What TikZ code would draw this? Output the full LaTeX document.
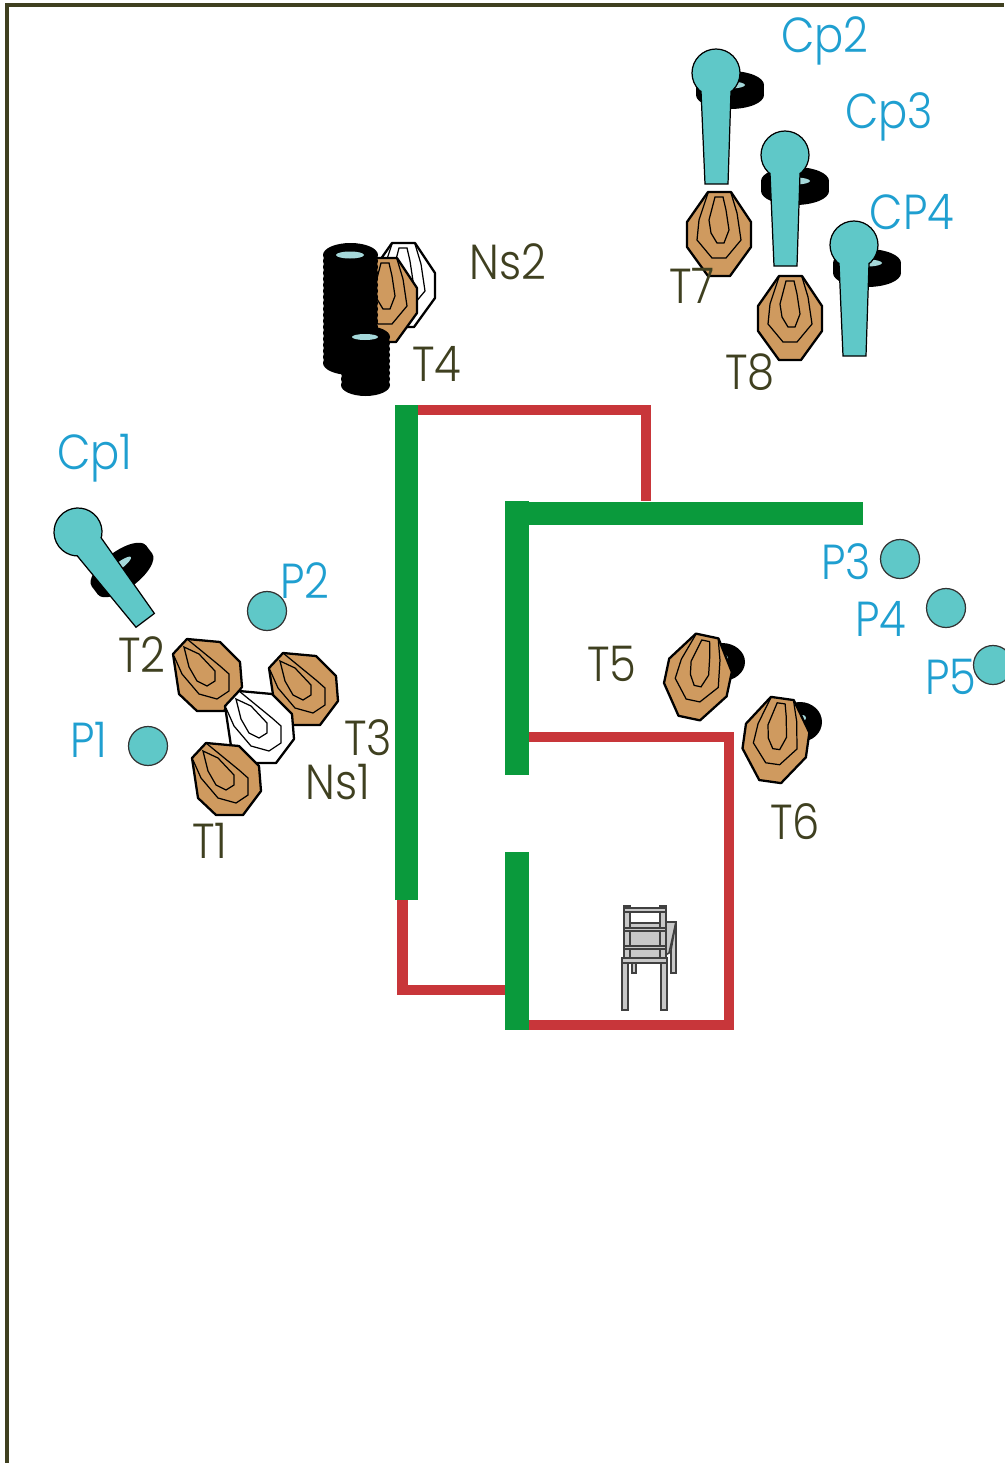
\documentclass[tikz,border=0pt]{standalone}
\usepackage{fontspec}
\setmainfont{Poppins Light}[FakeStretch=.88]
\definecolor{tanfill}{HTML}{CF9A5F}
\definecolor{cyanfill}{HTML}{5FC8C8}
\definecolor{holefill}{HTML}{A5D8DA}
\definecolor{bluetext}{HTML}{1F9FD0}
\definecolor{olivetext}{HTML}{3F4020}
\definecolor{wallred}{HTML}{C8363A}
\definecolor{wallgreen}{HTML}{0A9A3C}
\definecolor{chairgray}{HTML}{C8C8C8}
\tikzset{
    shooter/.style={font=\fontsize{28}{30}\selectfont, text=bluetext, inner sep=0pt},
    prop/.style={font=\fontsize{28}{30}\selectfont, text=olivetext, inner sep=0pt},
    redwall/.style={draw=wallred, line width=5.7pt},
    greenwall/.style={draw=wallgreen, line width=13.3pt},
    chairpart/.style={draw=black!75, fill=chairgray, line width=.9pt},
    pics/target/.style={code={
        \draw[fill=#1, line width=1.3pt, line join=round] (-11,-42) -- (12,-42) -- (32,-12) -- (32,13) -- (11,42) -- (-11,42) -- (-32,13) -- (-32,-12) -- cycle;
        \draw[line width=.7pt] (-11,-41) -- (-20,-14) -- (-22,6) -- (-7,24) -- (7,24) -- (22,6) -- (18,-21) -- (12,-41);
        \draw[line width=.7pt] (-4,-37) -- (-10,-14) -- (-8,-1) -- (-2,9) -- (5,9) -- (10,-4) -- (7,-24) -- (4,-37) -- cycle;
    }},
    pics/turned/.style={code={
        \draw[fill=#1, line width=1.3pt, line join=round] (-20,-35) -- (13,-32) -- (33,-12) -- (35,13) -- (17,37) -- (-10,37) -- (-28,20) -- (-34,-20) -- cycle;
        \draw[line width=.7pt] (-20,-35) -- (13,-8) -- (22,0) -- (22,17) -- (10,25) -- (-8,20) -- (-25,0) -- (-33,-18);
        \draw[line width=.7pt] (-23,-27) -- (-8,-20) -- (8,-3) -- (8,7) -- (0,12) -- (-10,7) -- (-18,-7) -- cycle;
    }},
    pics/tire/.style={code={
        \fill[black] (0,-5) ellipse [x radius=34, y radius=14];
        \fill[black] (0,5) ellipse [x radius=34, y radius=14];
        \fill[black] (-34,-5) rectangle (34,5);
        \fill[holefill] (0,-5) ellipse [x radius=15, y radius=3.5];
    }},
    pics/popper/.style={code={
        \draw[fill=cyanfill, line width=.7pt] (0,0) circle [radius=24];
        \draw[fill=cyanfill, line width=.7pt] (-15,18) -- (-11,111) -- (12,111) -- (15,18);
    }}
}

\begin{document}
\begin{tikzpicture}[x=.02cm, y=-.02cm]
    \useasboundingbox (0,0) rectangle (1004,1463);
    % border
    \draw[draw=olivetext, line width=1.9pt] (7,1463) -- (7,5) -- (1004,5);

    % walls
    \draw[redwall] (418,410) -- (645.5,410) -- (645.5,501);
    \draw[redwall] (529,737) -- (729,737) -- (729,1025) -- (529,1025);
    \draw[redwall] (402.5,900) -- (402.5,990) -- (505,990);
    \draw[greenwall] (406.5,405) -- (406.5,900);
    \draw[greenwall] (505,513.5) -- (863,513.5);
    \draw[greenwall] (517,501) -- (517,775);
    \draw[greenwall] (517,852) -- (517,1030);

    % left group
    \pic[rotate=37] at (122,570) {tire};
    \pic[rotate=37] at (78,532) {popper};
    \pic at (207,674) {turned=tanfill};
    \pic at (303,688) {turned=tanfill};
    \pic at (259,726) {turned=white};
    \pic at (226,778) {turned=tanfill};

    % top middle
    \pic at (403,285) {target=white};
    \pic at (385,300) {target=tanfill};
    \foreach \y in {255,261,...,364}
        \fill[black] (350.5,\y) ellipse [x radius=27.5, y radius=12];
    \fill[holefill] (350,255) ellipse [x radius=14, y radius=3.5];
    \foreach \y in {337,343,...,389}
        \fill[black] (365.5,\y) ellipse [x radius=24.5, y radius=11];
    \fill[holefill] (365,337) ellipse [x radius=13, y radius=3];

    % top right
    \pic at (730,90) {tire};
    \pic at (795,186) {tire};
    \pic at (867,268) {tire};
    \pic at (719,234) {target=tanfill};
    \pic at (790,318) {target=tanfill};
    \pic at (716,73) {popper};
    \pic at (785,155) {popper};
    \pic at (854,245) {popper};

    % middle right
    \fill[black] (722,662) ellipse [x radius=23, y radius=19];
    \fill[holefill] (725,658) circle [radius=3];
    \fill[black] (800,722) ellipse [x radius=22, y radius=20];
    \fill[holefill] (803,718) circle [radius=3];
    \pic[rotate=-12] at (698,677) {target=tanfill};
    \pic[rotate=-8] at (776,740) {target=tanfill};

    % chair
    \draw[chairpart] (665,922) -- (676,922) -- (669,953) -- (665,955) -- cycle;
    \draw[chairpart] (676,922) -- (676,973) -- (671,973) -- (671,950) -- cycle;
    \draw[chairpart] (630,923) rectangle (664,958);
    \draw[chairpart] (632,963) rectangle (636,973);
    \draw[chairpart] (624,906) rectangle (630,958);
    \draw[chairpart] (660,906) rectangle (666,958);
    \draw[chairpart] (624,908) rectangle (666,912);
    \draw[chairpart] (624,928) rectangle (666,931);
    \draw[chairpart] (624,946) rectangle (666,949);
    \draw[chairpart] (622,958) rectangle (667,963);
    \draw[chairpart] (622,963) rectangle (628,1010);
    \draw[chairpart] (661,963) rectangle (667,1010);

    % positions
    \foreach \name/\x/\y in {pa/148/746, pb/267/611, pc/900/559, pd/946/608, pe/993/665}
        \node[circle, draw=black!80, fill=cyanfill, line width=.7pt, minimum size=.78cm, inner sep=0pt] (\name) at (\x,\y) {};

    % labels
    \node[shooter] (cpa) at (95,458) {Cp1};
    \node[shooter] (cpb) at (825,41) {Cp2};
    \node[shooter] (cpc) at (889,117) {Cp3};
    \node[shooter] (cpd) at (912,212) {CP4};
    \node[shooter] (lpa) at (89,740) {P1};
    \node[shooter] (lpb) at (305,581) {P2};
    \node[shooter] (lpc) at (846,562) {P3};
    \node[shooter] (lpd) at (881,619) {P4};
    \node[shooter] (lpe) at (951,677) {P5};
    \node[prop] (ta) at (210,841) {T1};
    \node[prop] (tb) at (142,655) {T2};
    \node[prop] (tc) at (368,738) {T3};
    \node[prop] (td) at (437,364) {T4};
    \node[prop] (te) at (612,664) {T5};
    \node[prop] (tf) at (795,822) {T6};
    \node[prop] (tg) at (692,286) {T7};
    \node[prop] (th) at (750,372) {T8};
    \node[prop] (nsa) at (338,782) {Ns1};
    \node[prop] (nsb) at (508,262) {Ns2};
\end{tikzpicture}
\end{document}
